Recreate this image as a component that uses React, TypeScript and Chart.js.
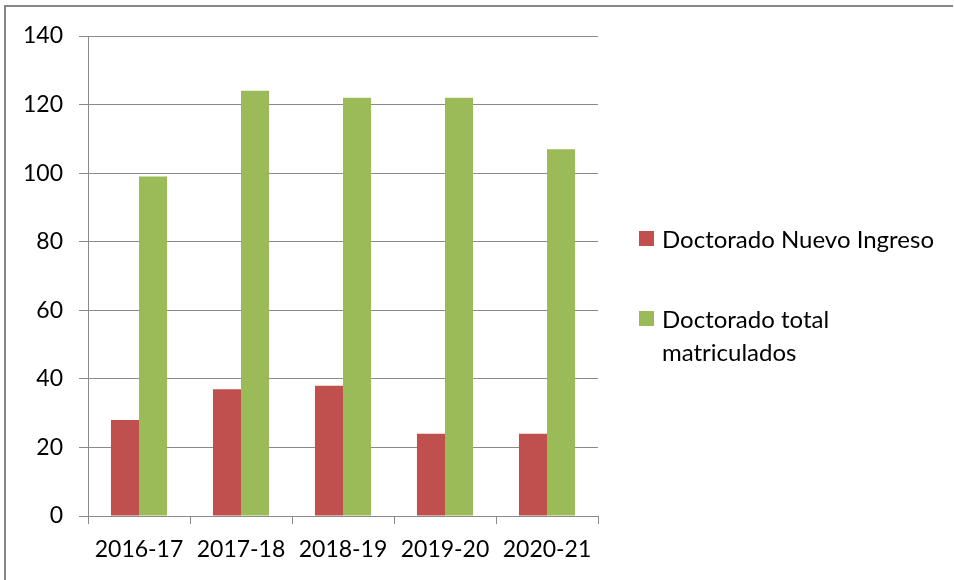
import React, { useEffect, useRef } from "react";
import { Chart, registerables } from "chart.js";

Chart.register(...registerables);

const categories = ["2016-17", "2017-18", "2018-19", "2019-20", "2020-21"];
const nuevoIngreso = [28, 37, 38, 24, 24];
const totalMatriculados = [99, 124, 122, 122, 107];
const seriesLabels = ["Doctorado Nuevo Ingreso", "Doctorado total matriculados"];
const seriesColors = ["#C0504D", "#9BBB59"];

const FONT = "Lato, 'Open Sans', sans-serif";
const GRID = "#8a8a8a";

export default function App() {
  const canvasRef = useRef<HTMLCanvasElement | null>(null);

  useEffect(() => {
    document.body.style.margin = "0";
    const ctx = canvasRef.current;
    if (!ctx) return;
    const chart = new Chart(ctx, {
      type: "bar",
      data: {
        labels: categories,
        datasets: [
          {
            label: seriesLabels[0],
            data: nuevoIngreso,
            backgroundColor: seriesColors[0],
            barPercentage: 1,
            categoryPercentage: 0.55,
          },
          {
            label: seriesLabels[1],
            data: totalMatriculados,
            backgroundColor: seriesColors[1],
            barPercentage: 1,
            categoryPercentage: 0.55,
          },
        ],
      },
      options: {
        animation: false,
        responsive: false,
        maintainAspectRatio: false,
        layout: { padding: { left: 0, right: 356, top: 36, bottom: 0 } },
        plugins: { legend: { display: false }, tooltip: { enabled: false } },
        scales: {
          x: {
            grid: {
              display: true,
              drawOnChartArea: false,
              drawTicks: true,
              tickLength: 8,
              color: GRID,
              offset: true,
            },
            border: { display: true, color: GRID },
            ticks: {
              color: "#000",
              font: { family: FONT, size: 23 },
              padding: 12,
              maxRotation: 0,
            },
            afterFit: (scale: any) => {
              scale.height = 64;
            },
          },
          y: {
            min: 0,
            max: 140,
            grid: {
              color: GRID,
              drawTicks: true,
              tickLength: 9,
            },
            border: { display: true, color: GRID },
            ticks: {
              stepSize: 20,
              color: "#000",
              font: { family: FONT, size: 23 },
              padding: 16,
            },
            afterFit: (scale: any) => {
              scale.width = 88;
            },
          },
        },
      },
    });
    return () => chart.destroy();
  }, []);

  const legendText: React.CSSProperties = {
    fontFamily: FONT,
    fontSize: 24,
    color: "#000",
    lineHeight: "33px",
    whiteSpace: "nowrap",
  };

  return (
    <div style={{ position: "relative", width: 954, height: 580, background: "#fff", overflow: "hidden" }}>
      <canvas ref={canvasRef} width={954} height={580} style={{ position: "absolute", left: 0, top: 0 }} />
      <div
        style={{
          position: "absolute",
          left: 4,
          top: 5,
          width: 949,
          height: 580,
          borderTop: "2px solid #878787",
          borderLeft: "2px solid #878787",
          boxSizing: "border-box",
          pointerEvents: "none",
        }}
      />
      <div style={{ position: "absolute", left: 639, top: 222, display: "flex", alignItems: "flex-start" }}>
        <div style={{ width: 15, height: 15, background: seriesColors[0], marginTop: 9, marginRight: 8 }} />
        <div style={legendText}>{seriesLabels[0]}</div>
      </div>
      <div style={{ position: "absolute", left: 639, top: 302, display: "flex", alignItems: "flex-start" }}>
        <div style={{ width: 15, height: 15, background: seriesColors[1], marginTop: 9, marginRight: 8 }} />
        <div style={legendText}>
          Doctorado total
          <br />
          matriculados
        </div>
      </div>
    </div>
  );
}
